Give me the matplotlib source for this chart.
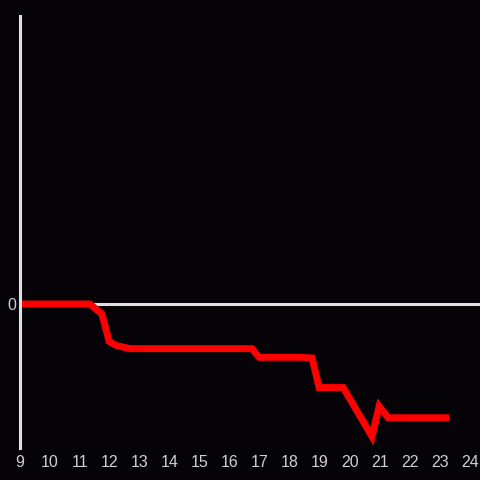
import matplotlib
matplotlib.use("Agg")
import matplotlib.pyplot as plt

# ── Data ──
hours = [9.0, 11.33, 11.73, 11.97, 12.23, 12.67, 16.73, 16.97, 18.33, 18.73,
         18.97, 19.77, 20.73, 20.97, 21.27, 23.3]
values = [0.0, 0.0, -0.07, -0.26, -0.29, -0.31, -0.31, -0.37, -0.37, -0.375,
          -0.58, -0.58, -0.92, -0.71, -0.79, -0.79]
xticks = list(range(9, 25))

BG = "#050307"
AXIS = "#e0e0e0"
TEXT = "#d0d0d0"

plt.rcParams["font.family"] = ["Liberation Sans", "DejaVu Sans"]

fig = plt.figure(figsize=(4.8, 4.8), dpi=100, facecolor=BG)
ax = fig.add_axes([20/480, 32/480, 460/480, 432/480], facecolor=BG)

ax.axhline(0, color=AXIS, linewidth=2.2, zorder=1)
ax.plot(hours, values, color="#ff0000", linewidth=5, solid_joinstyle="miter",
        solid_capstyle="butt", zorder=2)

ax.set_xlim(9, 24.33)
ax.set_ylim(-1, 2)
ax.set_xticks(xticks)
ax.set_xticklabels([str(t) for t in xticks])
ax.set_yticks([0])
ax.set_yticklabels(["0"])
ax.tick_params(length=0, colors=TEXT, labelsize=11.5, pad=5)
ax.tick_params(axis="y", pad=3)

for s in ["top", "right", "bottom"]:
    ax.spines[s].set_visible(False)
ax.spines["left"].set_color(AXIS)
ax.spines["left"].set_linewidth(2.2)

fig.savefig("out.png", dpi=100, facecolor=BG)
